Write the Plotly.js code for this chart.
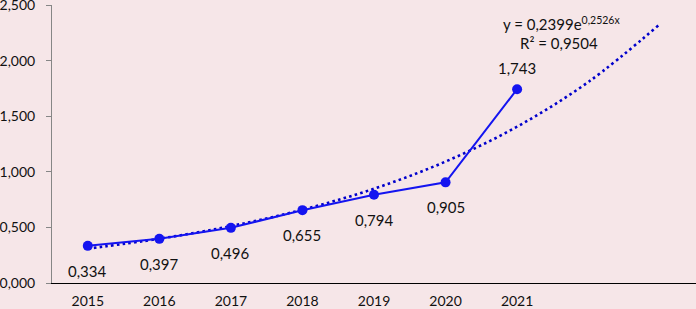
<!DOCTYPE html>
<html>
<head>
<meta charset="utf-8">
<script src="https://cdn.plot.ly/plotly-3.0.1.min.js"></script>
<style>html,body{margin:0;padding:0;background:#f6e6e8;}#chart{width:696px;height:309px;}</style>
</head>
<body>
<div id="chart"></div>
<script>
// Data
var years = [2015, 2016, 2017, 2018, 2019, 2020, 2021];
var values = [0.334, 0.397, 0.496, 0.655, 0.794, 0.905, 1.743];
var labelShift = [-25, -25, -25, -25, -25, -25, 21];
// Exponential trendline, 2015..2023
var trendYears = [2015, 2016, 2017, 2018, 2019, 2020, 2021, 2022, 2023];
var trendValues = [0.309, 0.398, 0.512, 0.659, 0.848, 1.092, 1.406, 1.810, 2.330];
var tickLabels = ['2015', '2016', '2017', '2018', '2019', '2020', '2021'];
var yTicks = [0, 0.5, 1, 1.5, 2, 2.5];
var equation = 'y = 0,2399e<sup>0,2526x</sup>';
var rSquared = 'R² = 0,9504';

var font = 'Lato, "Open Sans", sans-serif';
var txt = '#111111';
function fmt(v) { return v.toFixed(3).replace('.', ','); }

var traces = [
  {
    x: trendYears, y: trendValues, type: 'scatter', mode: 'lines',
    line: {color: '#0000cc', width: 2.6, dash: '2.6px,3.2px', shape: 'spline'},
    hoverinfo: 'skip', showlegend: false
  },
  {
    x: years, y: values, type: 'scatter', mode: 'lines+markers',
    line: {color: '#1414f0', width: 2},
    marker: {color: '#1414f0', size: 10},
    showlegend: false
  }
];

var annotations = years.map(function (yr, i) {
  return {
    x: yr, y: values[i], xref: 'x', yref: 'y', text: fmt(values[i]),
    showarrow: false, yshift: labelShift[i],
    font: {family: font, size: 15, color: txt}
  };
});
annotations.push({
  x: 2021.62, y: 2.33, xref: 'x', yref: 'y', text: equation, showarrow: false,
  font: {family: font, size: 15, color: txt}
});
annotations.push({
  x: 2021.58, y: 2.16, xref: 'x', yref: 'y', text: rSquared, showarrow: false,
  font: {family: font, size: 15, color: txt}
});

var layout = {
  width: 696, height: 309,
  margin: {l: 52, r: 0, t: 5, b: 26, pad: 0},
  paper_bgcolor: '#f6e6e8', plot_bgcolor: '#f6e6e8',
  separators: ', ',
  showlegend: false,
  xaxis: {
    range: [2014.5, 2023.5], tickvals: years, ticktext: tickLabels,
    showgrid: false, zeroline: false, showline: true, linecolor: '#000000', linewidth: 1,
    ticks: '', ticklabelstandoff: 5,
    tickfont: {family: font, size: 14, color: txt}
  },
  yaxis: {
    range: [0, 2.5], tickvals: yTicks, ticktext: yTicks.map(fmt),
    showgrid: false, zeroline: false, showline: true, linecolor: '#868686', linewidth: 1,
    ticks: 'outside', ticklen: 5, tickcolor: '#868686', ticklabelstandoff: 8,
    ticklabeloverflow: 'allow',
    tickfont: {family: font, size: 14, color: txt}
  },
  annotations: annotations
};

Plotly.newPlot('chart', traces, layout, {staticPlot: true, displayModeBar: false});
</script>
</body>
</html>
